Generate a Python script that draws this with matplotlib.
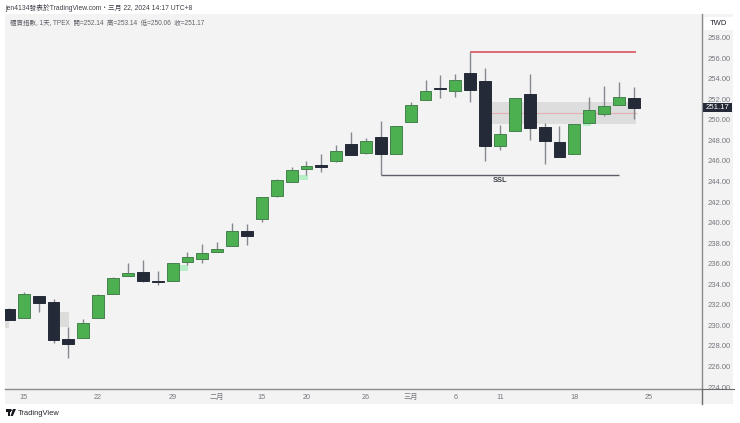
import matplotlib
matplotlib.use("Agg")
import matplotlib.pyplot as plt
from matplotlib.patches import Rectangle, Polygon, Circle

plt.rcParams['font.family'] = ['Liberation Sans', 'Noto Sans CJK TC', 'DejaVu Sans']

opens = [231.62,230.74,232.85,232.24,228.64,228.74,230.74,233.02,234.80,235.22,234.30,234.34,236.19,236.48,237.10,237.75,239.21,240.34,242.58,243.97,245.21,245.63,246.02,247.64,246.79,248.32,246.70,249.81,251.92,253.08,252.77,254.52,253.77,247.42,248.93,252.53,249.32,247.81,246.64,249.65,250.56,251.40,252.14]
closes = [230.52,233.02,232.20,228.57,228.18,230.20,232.95,234.60,235.06,234.31,234.26,236.09,236.62,237.07,237.40,239.15,238.69,242.51,244.11,245.08,245.47,245.43,246.99,246.60,247.93,246.67,249.42,251.39,252.80,253.04,253.87,252.89,247.45,248.61,252.09,249.20,247.93,246.38,249.61,250.98,251.37,252.18,251.17]
highs = [231.70,233.20,232.85,232.53,229.87,230.62,233.05,234.70,236.09,236.36,235.29,236.09,237.13,237.88,238.14,239.96,239.83,242.51,244.20,245.37,246.02,246.67,247.51,248.81,248.19,249.91,249.42,251.70,253.87,254.35,254.45,256.59,255.03,249.49,252.15,254.42,249.71,249.39,249.61,252.21,253.31,253.67,253.14]
lows = [230.52,230.74,231.33,228.25,226.79,228.74,230.74,233.02,234.80,234.20,233.92,234.34,235.87,236.09,237.10,237.75,237.81,240.08,242.45,243.97,244.62,244.95,245.92,246.60,246.67,244.62,246.70,249.81,251.90,252.14,252.24,251.75,245.99,247.06,248.93,248.03,245.67,246.38,246.64,249.65,250.36,251.40,250.06]

y_ticks = [224,226,228,230,232,234,236,238,240,242,244,246,248,250,252,254,256,258]
x_tick_idx = [1,6,11,14,17,20,24,27,30,33,38,43]
x_tick_labels = ['15','22','29','二月','15','20','26','三月','6','11','18','25']
last_price = 251.17
gap_grey = [(-0.26,0.0,229.74,230.52),(3.43,4.04,229.87,231.33)]
gap_green = [(11.5,12.04,235.26,235.87),(19.5,20.1,244.17,244.62),(38.56,39.1,249.39,249.61),(39.53,40.13,249.61,250.04)]
range_box = (32.47,42.14,249.6,251.73)
range_mid = 250.63
red_level = (31,42.14,256.59)
ssl_level = (25,41,244.62)

W,H = 740,423
fig = plt.figure(figsize=(W/100,H/100),dpi=100,facecolor='white')
def frame(l,t,r,b):
    return [l/W,1-b/H,(r-l)/W,(b-t)/H]
fig.patches.append(Rectangle((5/W,1-404/H),728/W,390/H,transform=fig.transFigure,facecolor='#f3f3f3',edgecolor='none',zorder=-5))
ax = fig.add_axes(frame(5,14,702.3,389.3))
ax.patch.set_alpha(0)
ax.set_xlim(-0.262,46.6)
ax.set_ylim(223.78,260.29)
GREEN='#4caf50'; GEDGE='#47804f'; DARK='#252a38'; WICK='#85888f'

for x0,x1,y0,y1 in gap_grey:
    ax.add_patch(Rectangle((x0,y0),x1-x0,y1-y0,fc='#dcdddb',ec='none',zorder=1))
for x0,x1,y0,y1 in gap_green:
    ax.add_patch(Rectangle((x0,y0),x1-x0,y1-y0,fc='#b6efc6',ec='none',zorder=1))
x0,x1,y0,y1 = range_box
ax.add_patch(Rectangle((x0,y0),x1-x0,y1-y0,fc='#dcdddc',ec='none',zorder=1))
ax.plot([x0,x1],[range_mid,range_mid],color='#e6aeb0',lw=0.8,zorder=1.5)
ax.plot(red_level[:2],[red_level[2]]*2,color='#d9545f',lw=1.2,zorder=2,solid_capstyle='butt')
ax.plot(ssl_level[:2],[ssl_level[2]]*2,color='#5b5e66',lw=1.0,zorder=2,solid_capstyle='butt')
ax.text(33,244.05,'SSL',fontsize=5.3,fontweight='bold',color='#3c3f47',ha='center',va='center')

xs = list(range(len(opens)))
ax.vlines(xs,lows,highs,color=WICK,lw=1.0,zorder=3)
for i,(o,c) in enumerate(zip(opens,closes)):
    up = c>o
    ax.bar(i,max(abs(c-o),0.02),bottom=min(o,c),width=0.8,
           color=GREEN if up else DARK,edgecolor=GEDGE if up else DARK,linewidth=0.7,zorder=4)

for s in ['top','left']:
    ax.spines[s].set_visible(False)
for s in ['right','bottom']:
    ax.spines[s].set_color('#8a8c90')
    ax.spines[s].set_linewidth(1.0)
ax.yaxis.tick_right()
ax.set_yticks(y_ticks)
ax.set_yticklabels([f'{v:.2f}' for v in y_ticks])
ax.set_xticks(x_tick_idx)
ax.set_xticklabels(x_tick_labels)
ax.tick_params(axis='y',length=0,labelsize=5.5,labelcolor='#74777e',pad=4)
ax.tick_params(axis='x',length=0,labelsize=5.2,labelcolor='#74777e',pad=3.5)

fig.add_artist(plt.Line2D([702.3/W,702.3/W],[1-404/H,1-389/H],color='#6a6c70',lw=1.0))
fig.add_artist(plt.Line2D([702/W,734/W],[1-389.3/H,1-389.3/H],color='#6a6c70',lw=0.8))

fig.patches.append(Rectangle((704/W,1-30/H),28.5/W,13/H,transform=fig.transFigure,fc='white',ec='none',zorder=2))
fig.text(718/W,1-23.5/H,'TWD',fontsize=5.5,color='#222530',ha='center',va='center',zorder=5)
fig.patches.append(Rectangle((703/W,1-112.5/H),28.7/W,9.5/H,transform=fig.transFigure,fc=DARK,ec='none',zorder=2))
label_y = fig.transFigure.inverted().transform(ax.transData.transform((0,last_price)))[1]
fig.text(717.5/W,label_y,f'{last_price:.2f}',fontsize=5.6,color='white',ha='center',va='center',zorder=5)

fig.text(5/W,1-8.5/H,'jen4134發表於TradingView.com・三月 22, 2024 14:17 UTC+8',fontsize=4.85,color='#3c3f47',ha='left',va='center')
fig.text(10/W,1-23/H,'櫃買指數, 1天, TPEX  開=252.14  高=253.14  低=250.06  收=251.17',fontsize=4.7,color='#5f6269',ha='left',va='center')

k='#16181d'
fig.patches.append(Rectangle((5.5/W,1-411.5/H),5/W,2.5/H,transform=fig.transFigure,fc=k,ec='none'))
fig.patches.append(Rectangle((7.5/W,1-416/H),2.8/W,5/H,transform=fig.transFigure,fc=k,ec='none'))
fig.patches.append(Circle((11.6/W,1-410.2/H),1.1/W,transform=fig.transFigure,fc=k,ec='none'))
fig.patches.append(Polygon([(13/W,1-409/H),(16/W,1-409/H),(12.8/W,1-416/H),(10.5/W,1-416/H)],transform=fig.transFigure,fc=k,ec='none'))
fig.text(18/W,1-413.3/H,'TradingView',fontsize=5.4,color='#26282e',ha='left',va='center')

fig.savefig('out.png',dpi=100,facecolor='white')
